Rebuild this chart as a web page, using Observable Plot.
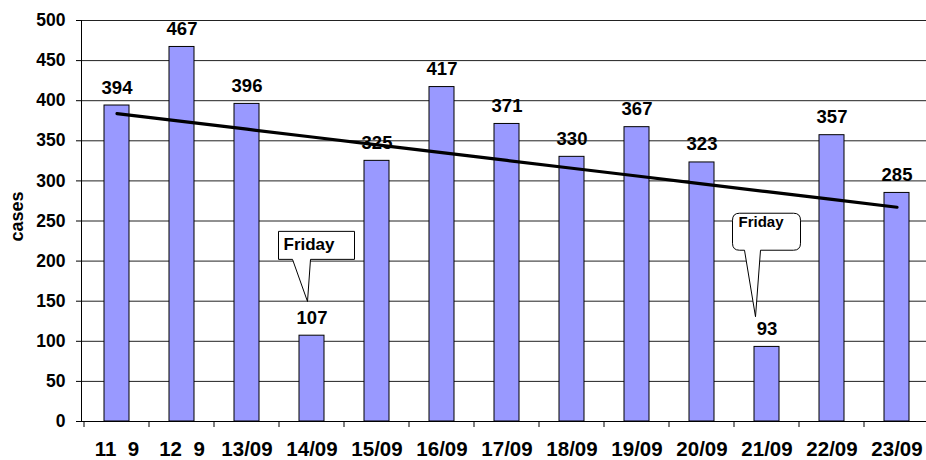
<!DOCTYPE html>
<html><head><meta charset="utf-8">
<script src="https://cdn.jsdelivr.net/npm/d3@7"></script>
<script src="https://cdn.jsdelivr.net/npm/@observablehq/plot@0.6"></script>
<style>
html,body{margin:0;padding:0;background:#fff;overflow:hidden;width:926px;height:460px}
#chart svg{max-width:none!important;display:block}
</style></head><body><div id="chart"></div>
<script>
// ---- data ----
const dates = ["11/09","12/09","13/09","14/09","15/09","16/09","17/09","18/09","19/09","20/09","21/09","22/09","23/09"];
const dateLabels = ["11\u00a0\u00a09","12\u00a0\u00a09","13/09","14/09","15/09","16/09","17/09","18/09","19/09","20/09","21/09","22/09","23/09"];
const cases = [394,467,396,107,325,417,371,330,367,323,93,357,285];
const yTicks = [0,50,100,150,200,250,300,350,400,450,500];
const yTitle = "cases";
const calloutDates = ["14/09","21/09"];
const calloutTexts = ["Friday","Friday"];
const calloutBoxValues = [219, 236];   // box centre, in "cases" units
const calloutTipValues = [149, 130];   // pointer tip, in "cases" units

const data = dates.map((d,i)=>({date:d, cases:cases[i]}));
// linear trend (least squares) computed from the data
const n = cases.length, xm = (n-1)/2, ym = d3.mean(cases);
const slope = d3.sum(cases,(v,i)=>(i-xm)*(v-ym)) / d3.sum(cases,(v,i)=>(i-xm)*(i-xm));
const trend = dates.map((d,i)=>({date:d, value: ym + slope*(i-xm)}));

const FONT = "'Liberation Sans', Arial, Helvetica, sans-serif";

const plot = Plot.plot({
  width: 932, height: 460,
  marginLeft: 81, marginRight: 0, marginTop: 20, marginBottom: 39,
  style: {fontFamily: FONT, fontWeight: "bold", fontSize: "16px", color: "#000", background: "#fff", overflow: "hidden"},
  x: {domain: dates, paddingInner: 0.61, paddingOuter: 0.305},
  y: {domain: [0, 500]},
  marks: [
    Plot.ruleY(yTicks, {stroke: "#222", strokeWidth: 1}),
    Plot.barY(data, {x: "date", y: "cases", fill: "#9999ff", stroke: "#000", strokeWidth: 1}),
    Plot.line(trend, {x: "date", y: "value", stroke: "#000", strokeWidth: 3.2}),
    Plot.text(data, {x: "date", y: "cases", text: d => String(d.cases), dy: -12, lineAnchor: "bottom", fontSize: 18.5, fontWeight: "bold", fill: "#000"}),
    Plot.axisY({ticks: yTicks, tickSize: 5, tickPadding: 11, fontSize: 17.5, fontWeight: "bold", label: null, stroke: "#000"}),
    Plot.axisX({tickSize: 0, tickPadding: 20, fontSize: 20.5, fontWeight: "bold", label: null, tickFormat: d => dateLabels[dates.indexOf(d)]}),
    Plot.ruleY([0], {stroke: "#000", strokeWidth: 1}),
    Plot.frame({anchor: "left", stroke: "#000"})
  ]
});
document.getElementById("chart").appendChild(plot);

// ---- band-boundary ticks, y title and callouts, placed through Plot's scales ----
const xs = plot.scale("x"), ys = plot.scale("y");
const bw = xs.bandwidth, step = xs.step, gap = (step - bw) / 2;
const svg = d3.select(plot);
const y0 = ys.apply(0);
const bounds = dates.map(d => xs.apply(d) - gap).concat([xs.apply(dates[n-1]) + bw + gap]);
svg.append("g").selectAll("line").data(bounds).join("line")
  .attr("x1", d => d).attr("x2", d => d).attr("y1", y0).attr("y2", y0 + 6)
  .attr("stroke", "#000").attr("stroke-width", 1);

// y title
svg.append("text")
  .attr("transform", `translate(23,${(ys.apply(0) + ys.apply(500)) / 2 - 4}) rotate(-90)`)
  .attr("text-anchor", "middle").attr("font-family", FONT).attr("font-weight", "bold")
  .attr("font-size", 18).attr("fill", "#000").text(yTitle);

const cg = svg.append("g");
calloutDates.forEach((d, i) => {
  const cx = xs.apply(d) + bw / 2;
  const rounded = i === 1;
  const W = rounded ? 68 : 76, H = rounded ? 37 : 28;
  const bx = rounded ? cx : cx + 5;
  const by = ys.apply(calloutBoxValues[i]);
  const x0 = bx - W / 2, x1 = bx + W / 2, yT = by - H / 2, yB = by + H / 2;
  const p1 = bx + (rounded ? -22 : -24), p2 = bx - 6;
  const tx = bx + (rounded ? -11 : -9), ty = ys.apply(calloutTipValues[i]);
  let path;
  if (!rounded) {
    path = `M${x0},${yT}H${x1}V${yB}H${p2}L${tx},${ty}L${p1},${yB}H${x0}Z`;
  } else {
    const r = 7;
    path = `M${x0+r},${yT}H${x1-r}Q${x1},${yT} ${x1},${yT+r}V${yB-r}Q${x1},${yB} ${x1-r},${yB}H${p2}L${tx},${ty}L${p1},${yB}H${x0+r}Q${x0},${yB} ${x0},${yB-r}V${yT+r}Q${x0},${yT} ${x0+r},${yT}Z`;
  }
  cg.append("path").attr("d", path).attr("fill", "#fff").attr("stroke", "#000").attr("stroke-width", 1);
  cg.append("text").attr("x", x0 + (rounded ? 6 : 5)).attr("y", by + (rounded ? -5 : 5))
    .attr("text-anchor", "start")
    .attr("font-family", FONT).attr("font-weight", "bold").attr("font-size", rounded ? 15 : 17)
    .attr("fill", "#000").text(calloutTexts[i]);
});
</script></body></html>
